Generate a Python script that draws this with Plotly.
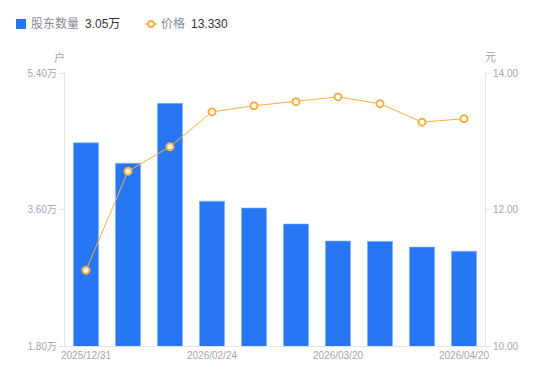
import plotly.graph_objects as go

dates = ["2025/12/31", "2026/01/20", "2026/02/10", "2026/02/24", "2026/02/28",
         "2026/03/10", "2026/03/20", "2026/03/31", "2026/04/10", "2026/04/20"]
holders = [4.48, 4.21, 5.00, 3.71, 3.62, 3.41, 3.185, 3.18, 3.105, 3.05]  # 万户
price = [11.11, 12.56, 12.92, 13.43, 13.52, 13.58, 13.65, 13.55, 13.28, 13.33]
x_tickvals = ["2025/12/31", "2026/02/24", "2026/03/20", "2026/04/20"]
left_ticks = [1.80, 3.60, 5.40]
right_ticks = [10.0, 12.0, 14.0]

BLUE = "#2776f3"
ORANGE = "#f7b03f"
AXIS = "#e3e3e8"
TICKC = "#a3a3b3"
FONT = "Liberation Sans, Arial, Noto Sans CJK SC, sans-serif"

fig = go.Figure()
fig.add_trace(go.Bar(x=dates, y=holders, marker=dict(color=BLUE, line=dict(color="#8fb8f8", width=0.6)),
                     yaxis="y", name="股东数量"))
fig.add_trace(go.Scatter(x=dates, y=price, yaxis="y2", mode="lines+markers", name="价格",
                         line=dict(color=ORANGE, width=1),
                         marker=dict(symbol="circle", size=7, color="white", line=dict(color=ORANGE, width=2))))

fig.update_layout(
    width=542, height=373,
    margin=dict(l=57, r=65, t=65, b=35),
    plot_bgcolor="white", paper_bgcolor="white",
    showlegend=False, bargap=0.4,
    font=dict(family=FONT, size=10, color=TICKC),
    xaxis=dict(type="category", tickmode="array", tickvals=x_tickvals, ticktext=x_tickvals,
               showline=True, linecolor=AXIS, linewidth=1, showgrid=False, ticks="",
               tickfont=dict(size=10, color=TICKC), range=[-0.5, 9.5]),
    yaxis=dict(range=[1.80, 5.40], tickmode="array", tickvals=left_ticks,
               ticktext=[f"{v:.2f}万" for v in left_ticks],
               showline=True, linecolor=AXIS, linewidth=1, showgrid=False, zeroline=False,
               ticks="outside", ticklen=5, tickcolor=AXIS, tickfont=dict(size=10, color=TICKC)),
    yaxis2=dict(range=[10, 14], overlaying="y", side="right", tickmode="array", tickvals=right_ticks,
                ticktext=[f"{v:.2f}" for v in right_ticks],
                showline=True, linecolor=AXIS, linewidth=1, showgrid=False, zeroline=False,
                ticks="outside", ticklen=5, tickcolor=AXIS, tickfont=dict(size=10, color=TICKC)),
)

# pixel (page) coords -> paper coords; plot area spans page x 65..485, y 73..346
def px(xp):
    return (xp - 65) / 420
def py(yp):
    return (346 - yp) / 273

fig.add_annotation(xref="paper", yref="paper", x=px(59), y=py(57), text="户", showarrow=False,
                   font=dict(size=11, color=TICKC), xanchor="center", yanchor="middle")
fig.add_annotation(xref="paper", yref="paper", x=px(490), y=py(57), text="元", showarrow=False,
                   font=dict(size=11, color=TICKC), xanchor="center", yanchor="middle")

# custom legend
fig.add_shape(type="rect", xref="paper", yref="paper", x0=px(16), x1=px(26), y0=py(29), y1=py(19),
              fillcolor=BLUE, line=dict(width=0))
fig.add_annotation(xref="paper", yref="paper", x=px(29), y=py(24), xanchor="left", yanchor="middle",
                   text="股东数量", showarrow=False, font=dict(size=12, color="#8a8a99"))
fig.add_annotation(xref="paper", yref="paper", x=px(83), y=py(24), xanchor="left", yanchor="middle",
                   text="3.05万", showarrow=False, font=dict(size=12, color="#333333"))
fig.add_shape(type="line", xref="paper", yref="paper", x0=px(145), x1=px(157), y0=py(24), y1=py(24),
              line=dict(color=ORANGE, width=1.5))
fig.add_shape(type="circle", xref="paper", yref="paper", x0=px(148), x1=px(154), y0=py(27), y1=py(21),
              fillcolor="white", line=dict(color=ORANGE, width=1.8))
fig.add_annotation(xref="paper", yref="paper", x=px(159), y=py(24), xanchor="left", yanchor="middle",
                   text="价格", showarrow=False, font=dict(size=12, color="#8a8a99"))
fig.add_annotation(xref="paper", yref="paper", x=px(189), y=py(24), xanchor="left", yanchor="middle",
                   text="13.330", showarrow=False, font=dict(size=12, color="#333333"))

fig.write_html("out.html")
